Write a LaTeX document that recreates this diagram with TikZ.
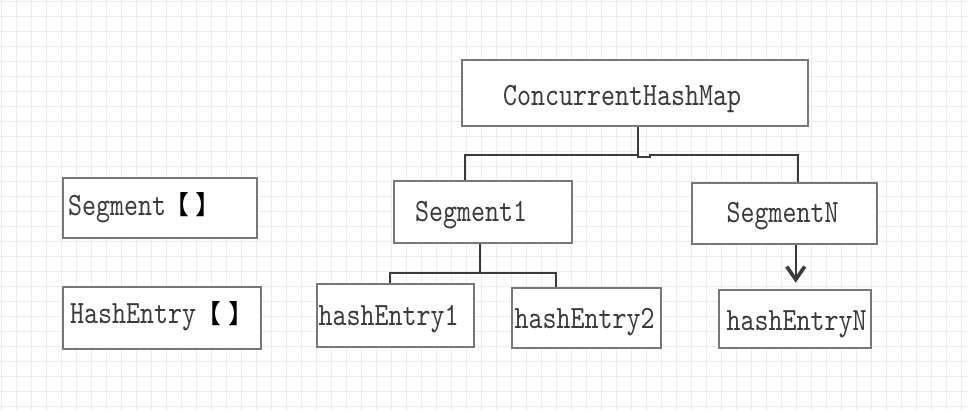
\documentclass[tikz,border=0pt]{standalone}
\usepackage{fontspec}
\usetikzlibrary{arrows.meta,calc}
\newfontfamily\monof{lmmono10-regular.otf}[FakeStretch=0.82]
\newfontfamily\cjkf{Noto Sans CJK SC}[RawFeature=+halt]
\definecolor{gridc}{HTML}{EDEDED}
\definecolor{boxc}{HTML}{777777}
\definecolor{linec}{HTML}{3A3A3A}
\definecolor{textc}{HTML}{3A3A3A}
\tikzset{
  gridline/.style={draw=gridc, line width=1.5pt},
  box/.style={draw=boxc, line width=2.6pt, fill=white, inner sep=0pt, rectangle},
  lbl/.style={anchor=base west, inner sep=0pt, text=textc, font=\monof\fontsize{32.5}{36}\selectfont},
  brk/.style={inner sep=0pt, text=black, font=\cjkf\fontsize{26}{30}\selectfont},
  conn/.style={draw=linec, line width=2pt},
}
\begin{document}
\begin{tikzpicture}[x=1pt,y=-1pt]
\useasboundingbox (0,0) rectangle (968,410);
\fill[white] (0,0) rectangle (968,410);
\foreach \i in {0,...,64} \draw[gridline] ({1.7+15*\i},0) -- ({1.7+15*\i},410);
\foreach \i in {0,...,27} \draw[gridline] (0,{1.7+15*\i}) -- (968,{1.7+15*\i});

% boxes
\node[box, minimum width=346pt, minimum height=66pt] (chm) at (635,93) {};
\node[box, minimum width=194pt, minimum height=60pt] (segarr) at (160,208) {};
\node[box, minimum width=198pt, minimum height=62pt] (entarr) at (162,318) {};
\node[box, minimum width=178pt, minimum height=62pt] (seg1) at (483,212) {};
\node[box, minimum width=185pt, minimum height=61pt] (segN) at (784.5,213.5) {};
\node[box, minimum width=157pt, minimum height=63pt] (he1) at (395.5,315.5) {};
\node[box, minimum width=149pt, minimum height=60pt] (he2) at (586.5,318) {};
\node[box, minimum width=152pt, minimum height=58pt] (heN) at (795,319) {};

% texts
\node[lbl] (chmt) at (503,105) {ConcurrentHashMap};
\node[lbl] (segarrt) at (68,215) {Segment};
\node[brk] (b1l) at (183.3,205) {【};
\node[brk] (b1r) at (201.7,205) {】};
\node[lbl] (entarrt) at (70,323) {HashEntry};
\node[brk] (b2l) at (215,313.5) {【};
\node[brk] (b2r) at (235,313.5) {】};
\node[lbl] (seg1t) at (415,221.5) {Segment1};
\node[lbl] (segNt) at (726.5,222.5) {SegmentN};
\node[lbl] (he1t) at (318.5,325) {hashEntry1};
\node[lbl] (he2t) at (514.5,328) {hashEntry2};
\node[lbl] (heNt) at (726.5,330) {hashEntryN};

% connectors
\draw[conn] ([xshift=3pt]chm.south) -- ++(0,28) -| ([xshift=72pt]seg1.north west);
\draw[conn] ([xshift=3pt]chm.south) -- ++(0,30) -- ++(12,0) -- ++(0,-2) -| ([xshift=107pt]segN.north west);
\draw[conn] ([xshift=87pt]seg1.south west) -- ++(0,29) coordinate (j2);
\draw[conn] (j2) -| ([xshift=74pt]he1.north west);
\draw[conn] (j2) -| ([xshift=45pt]he2.north west);
\draw[conn, -{Straight Barb[length=13pt,width=18pt,line width=3.6pt]}, shorten >=6pt]
  ([xshift=105pt]segN.south west) -- ([xshift=78pt]heN.north west);
\end{tikzpicture}
\end{document}
